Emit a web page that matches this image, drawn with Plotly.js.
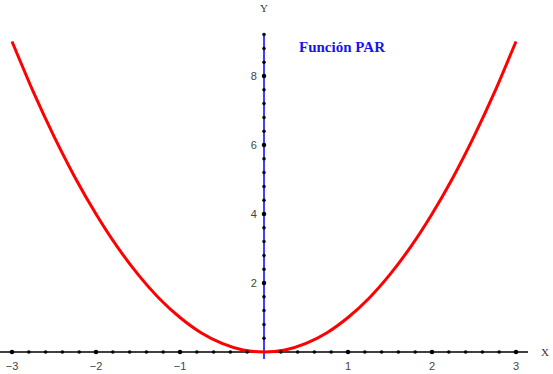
<!DOCTYPE html>
<html><head><meta charset="utf-8">
<script src="https://cdn.plot.ly/plotly-3.0.1.min.js"></script>
<style>html,body{margin:0;padding:0;background:#fff}#c{width:553px;height:374px}</style>
</head><body><div id="c"></div>
<script>
var xs = [-3,-2.75,-2.5,-2.25,-2,-1.75,-1.5,-1.25,-1,-0.75,-0.5,-0.25,0,0.25,0.5,0.75,1,1.25,1.5,1.75,2,2.25,2.5,2.75,3];
var ys = [9,7.56,6.25,5.06,4,3.06,2.25,1.56,1,0.56,0.25,0.06,0,0.06,0.25,0.56,1,1.56,2.25,3.06,4,5.06,6.25,7.56,9];
var xTickVals = [-3,-2,-1,1,2,3];
var xTickText = ['\u22123','\u22122','\u22121','1','2','3'];
var yTickVals = [2,4,6,8];
var yTickText = ['2','4','6','8'];
var titleText = 'Función PAR';

var W=553,H=374, x0px=264, y0px=352, pxX=84, pxY=34.5;
var xr=[-x0px/pxX,(W-x0px)/pxX], yr=[(y0px-H)/pxY, y0px/pxY];

var mx=[],my=[],Mx=[],My=[];
for(var i=-15;i<=15;i++){ if(i===0)continue; var v=i*0.2; if(i%5===0){Mx.push(v);My.push(0);} else {mx.push(v);my.push(0);} }
for(var j=1;j<=23;j++){ var w=j*0.4; if(j%5===0){Mx.push(0);My.push(w);} else {mx.push(0);my.push(w);} }

var traces=[
 {x:xs,y:ys,mode:'lines',line:{color:'#ff0000',width:3,shape:'spline',smoothing:0.6},hoverinfo:'skip'},
 {x:mx,y:my,mode:'markers',marker:{color:'#000',size:3.5},hoverinfo:'skip'},
 {x:Mx,y:My,mode:'markers',marker:{color:'#000',size:4.5},hoverinfo:'skip'}
];
var layout={
 width:W,height:H,margin:{l:0,r:0,t:0,b:0},paper_bgcolor:'#fff',plot_bgcolor:'#fff',showlegend:false,
 title:{text:'<b>'+titleText+'</b>',x:342/W,y:1-47/H,xanchor:'center',yanchor:'middle',xref:'paper',yref:'container',
   font:{family:'Liberation Serif',size:15,color:'#1414f0'}},
 xaxis:{range:xr,anchor:'free',position:(H-y0px)/H,side:'bottom',showgrid:false,zeroline:false,showline:false,
   ticks:'outside',ticklen:4,tickcolor:'rgba(0,0,0,0)',
   tickmode:'array',tickvals:xTickVals,ticktext:xTickText,tickfont:{family:'Liberation Sans',size:11,color:'#444'},
   automargin:false,fixedrange:true},
 yaxis:{range:yr,anchor:'free',position:x0px/W,side:'left',showgrid:false,zeroline:false,showline:false,
   ticks:'outside',ticklen:5,tickcolor:'rgba(0,0,0,0)',
   tickmode:'array',tickvals:yTickVals,ticktext:yTickText,tickfont:{family:'Liberation Sans',size:11,color:'#444'},
   automargin:false,fixedrange:true},
 shapes:[
  {type:'line',xref:'x',yref:'y',x0:xr[0],x1:264/pxX,y0:0,y1:0,line:{color:'#000',width:1.3},layer:'below'},
  {type:'line',xref:'x',yref:'y',x0:0,x1:0,y0:-0.2,y1:9.24,line:{color:'#0000ff',width:1.5},layer:'below'}
 ],
 annotations:[
  {text:'Y',xref:'x',yref:'y',x:0,y:(y0px-8)/pxY,showarrow:false,font:{family:'Liberation Serif',size:11,color:'#333'}},
  {text:'X',xref:'x',yref:'y',x:(545-x0px)/pxX,y:0,showarrow:false,font:{family:'Liberation Serif',size:11,color:'#333'}}
 ]
};
Plotly.newPlot('c',traces,layout,{displayModeBar:false,staticPlot:true});
</script></body></html>
